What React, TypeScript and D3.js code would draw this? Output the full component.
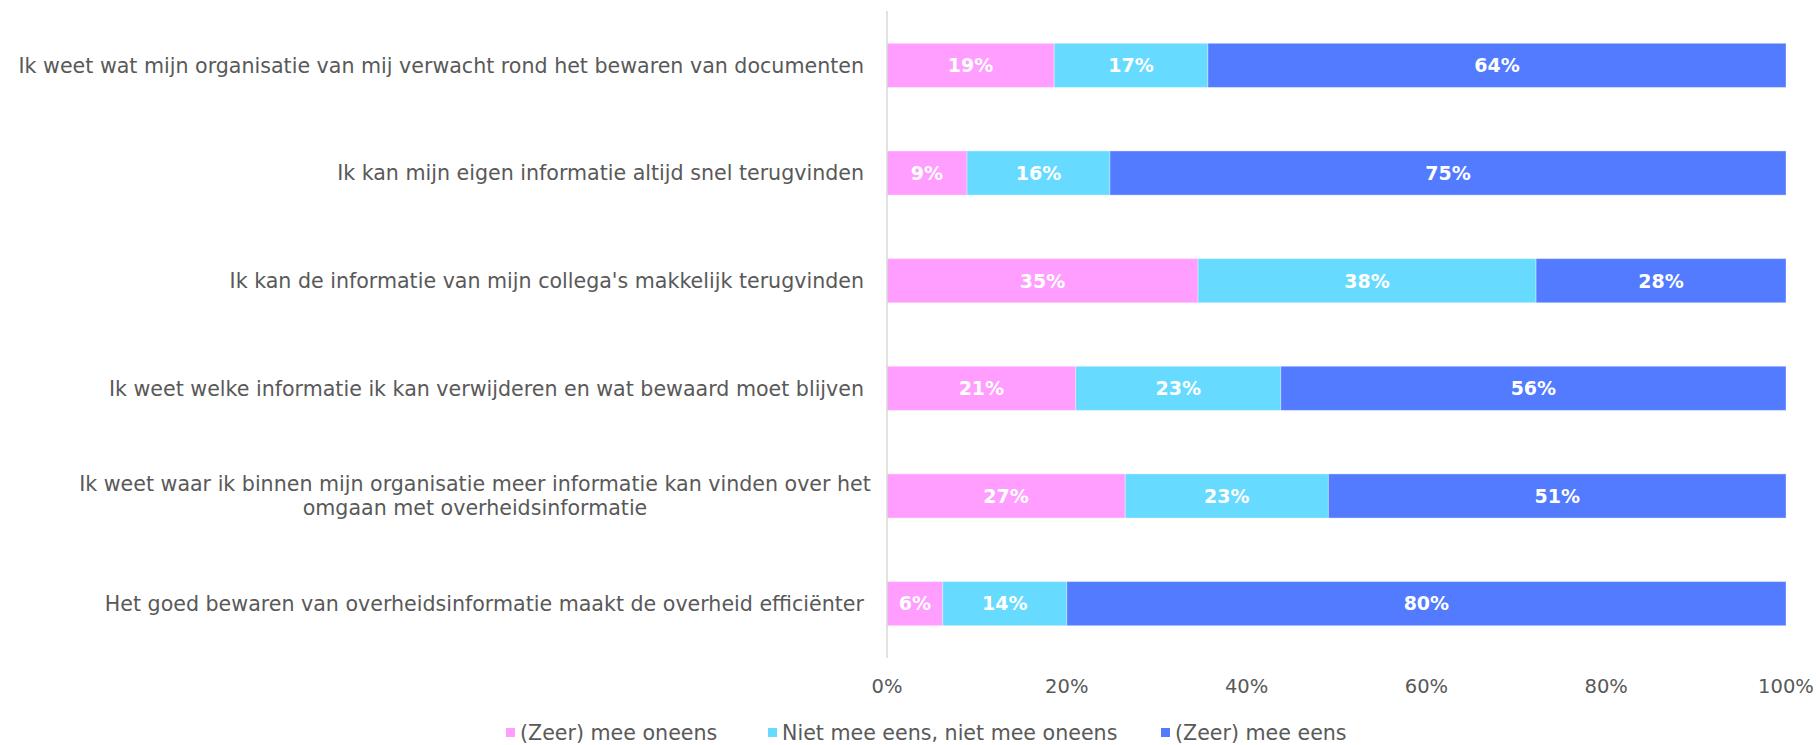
import React from 'react';
import * as d3 from 'd3';

const categories = [
  'Ik weet wat mijn organisatie van mij verwacht rond het bewaren van documenten',
  'Ik kan mijn eigen informatie altijd snel terugvinden',
  "Ik kan de informatie van mijn collega's makkelijk terugvinden",
  'Ik weet welke informatie ik kan verwijderen en wat bewaard moet blijven',
  'Ik weet waar ik binnen mijn organisatie meer informatie kan vinden over het\nomgaan met overheidsinformatie',
  'Het goed bewaren van overheidsinformatie maakt de overheid efficiënter',
];

const seriesNames = ['(Zeer) mee oneens', 'Niet mee eens, niet mee oneens', '(Zeer) mee eens'];
const oneens = [18.6, 8.9, 34.6, 21.0, 26.5, 6.2];
const neutraal = [17.1, 15.9, 37.6, 22.8, 22.6, 13.8];
const eens = [64.3, 75.2, 27.8, 56.2, 50.9, 80.0];
const colors = ['#FF9EFF', '#66DBFF', '#527BFF'];
const xTicks = [0, 20, 40, 60, 80, 100];

const W = 1816;
const H = 745;
const FONT = '"DejaVu Sans", sans-serif';
const GREY = '#595959';
const FS = 20.6;

export default function App() {
  const x = d3.scaleLinear().domain([0, 100]).range([887, 1786]);
  const y = d3.scaleBand<number>().domain(d3.range(categories.length)).range([11, 658]).paddingInner(0.59).paddingOuter(0.3);

  const rows = categories.map((c, i) => ({ c, vals: [oneens[i], neutraal[i], eens[i]] }));
  const stack = d3.stack<any>().keys(['0', '1', '2']).value((d, k) => d.vals[+k]);
  const layers = stack(rows as any);

  return (
    <svg width={W} height={H} style={{ position: 'absolute', left: 0, top: 0 }} fontFamily={FONT}>
      <rect width={W} height={H} fill="#fff" />
      {layers.map((layer, si) =>
        layer.map((d, i) => {
          const x0 = x(d[0]);
          const x1 = x(d[1]);
          const yy = y(i)!;
          const bw = y.bandwidth();
          return (
            <g key={`${si}-${i}`}>
              <rect x={x0} y={yy} width={x1 - x0} height={bw} fill={colors[si]} stroke="#fff" strokeOpacity={0.35} strokeWidth={1} />
              <text x={(x0 + x1) / 2} y={yy + bw / 2} dy="0.36em" textAnchor="middle" fill="#fff" fontWeight="bold" fontSize={19}>
                {Math.round(d[1] - d[0])}%
              </text>
            </g>
          );
        })
      )}
      <line x1={887} x2={887} y1={11} y2={658} stroke="#D9D9D9" strokeWidth={1.5} />
      {categories.map((c, i) => {
        const lines = c.split('\n');
        const cy = y(i)! + y.bandwidth() / 2;
        if (lines.length === 1) {
          return (
            <text key={i} x={864} y={cy} dy="0.36em" textAnchor="end" fill={GREY} fontSize={FS}>
              {c}
            </text>
          );
        }
        // wrapped label: lines centred on each other
        return (
          <g key={i} fill={GREY} fontSize={FS} textAnchor="middle">
            {lines.map((l, li) => (
              <text key={li} x={475} y={cy + (li - (lines.length - 1) / 2) * 24} dy="0.36em">{l}</text>
            ))}
          </g>
        );
      })}
      {xTicks.map((t) => (
        <text key={t} x={x(t)} y={686} dy="0.36em" textAnchor="middle" fill={GREY} fontSize={19.5}>
          {t}%
        </text>
      ))}
      {seriesNames.map((s, i) => {
        const lx = [506, 768, 1161][i];
        return (
          <g key={s}>
            <rect x={lx} y={728} width={9} height={9} fill={colors[i]} />
            <text x={lx + 14} y={733} dy="0.36em" fill={GREY} fontSize={FS}>{s}</text>
          </g>
        );
      })}
    </svg>
  );
}
